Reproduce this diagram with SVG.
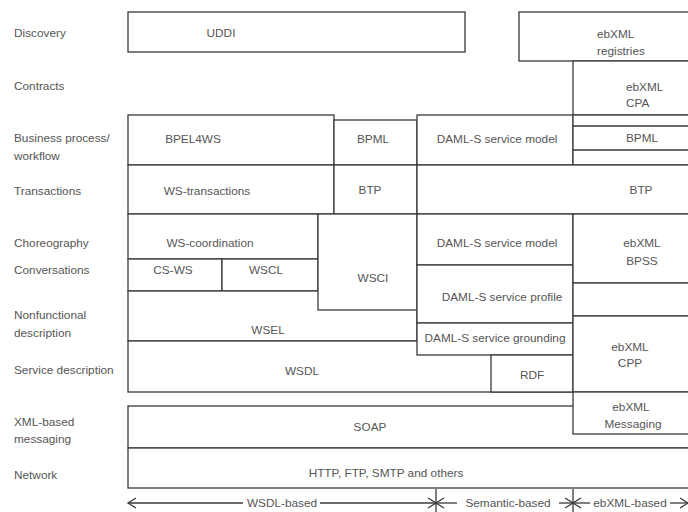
<svg xmlns="http://www.w3.org/2000/svg" width="688" height="512" viewBox="0 0 688 512">
<style>
.b{fill:#fff;stroke:#3a3a3a;stroke-width:1.3}
.ln{fill:none;stroke:#3a3a3a;stroke-width:1.3}
text{font-family:"Liberation Sans",Arial,sans-serif;font-size:11.8px;fill:#555;dominant-baseline:central}
.c{text-anchor:middle}
.s{text-anchor:start}
</style>
<rect width="688" height="512" fill="#fff"/>
<g id="labels">
<text class="s" x="14" y="33">Discovery</text>
<text class="s" x="14" y="86">Contracts</text>
<text class="s" x="14" y="138">Business process/</text>
<text class="s" x="14" y="156">workflow</text>
<text class="s" x="14" y="191">Transactions</text>
<text class="s" x="14" y="243">Choreography</text>
<text class="s" x="14" y="270">Conversations</text>
<text class="s" x="14" y="315">Nonfunctional</text>
<text class="s" x="14" y="333">description</text>
<text class="s" x="14" y="370">Service description</text>
<text class="s" x="14" y="422">XML-based</text>
<text class="s" x="14" y="439">messaging</text>
<text class="s" x="14" y="475">Network</text>
</g>
<g id="uddi"><rect class="b" x="128" y="12" width="337" height="40"/><text class="c" x="221" y="33">UDDI</text></g>
<g id="ebxml-registries"><rect class="b" x="519" y="12" width="180" height="49"/><text class="s" x="597" y="34">ebXML</text><text class="s" x="597" y="51">registries</text></g>
<g id="ebxml-cpa"><rect class="b" x="573" y="61" width="120" height="54"/><text class="s" x="626" y="87">ebXML</text><text class="s" x="626" y="103">CPA</text></g>
<g id="bpel4ws"><rect class="b" x="128" y="115" width="206" height="50"/><text class="c" x="193" y="139">BPEL4WS</text></g>
<g id="bpml"><rect class="b" x="334" y="120" width="83" height="45"/><text class="c" x="373" y="139">BPML</text></g>
<g id="daml-model-1"><rect class="b" x="417" y="115" width="156" height="50"/><text class="c" x="497" y="139">DAML-S service model</text></g>
<g id="ebxml-bpml"><rect class="b" x="573" y="115" width="120" height="50"/><line class="ln" x1="573" y1="126" x2="688" y2="126"/><line class="ln" x1="573" y1="150" x2="688" y2="150"/><text class="c" x="642" y="138">BPML</text></g>
<g id="ws-transactions"><rect class="b" x="128" y="165" width="206" height="49"/><text class="c" x="207" y="191">WS-transactions</text></g>
<g id="btp-small"><rect class="b" x="334" y="165" width="83" height="49"/><text class="c" x="370" y="190">BTP</text></g>
<g id="btp-big"><rect class="b" x="417" y="165" width="280" height="49"/><text class="c" x="641" y="190">BTP</text></g>
<g id="ws-coordination"><rect class="b" x="128" y="214" width="190" height="45"/><text class="c" x="210" y="243">WS-coordination</text></g>
<g id="cs-ws"><rect class="b" x="128" y="259" width="94" height="32"/><text class="c" x="173" y="270">CS-WS</text></g>
<g id="wscl"><rect class="b" x="222" y="259" width="96" height="32"/><text class="c" x="266" y="270">WSCL</text></g>
<g id="wsel"><rect class="b" x="128" y="291" width="289" height="50"/><text class="c" x="268" y="330">WSEL</text></g>
<g id="wsci"><rect class="b" x="318" y="214" width="99" height="96"/><text class="c" x="373" y="278">WSCI</text></g>
<g id="daml-model-2"><rect class="b" x="417" y="214" width="156" height="51"/><text class="c" x="497" y="243">DAML-S service model</text></g>
<g id="daml-profile"><rect class="b" x="417" y="265" width="156" height="58"/><text class="c" x="502" y="297">DAML-S service profile</text></g>
<g id="ebxml-bpss"><rect class="b" x="573" y="214" width="120" height="69"/><text class="c" x="642" y="243">ebXML</text><text class="c" x="642" y="261">BPSS</text></g>
<g id="empty-right"><rect class="b" x="573" y="283" width="120" height="33"/></g>
<g id="wsdl"><rect class="b" x="128" y="341" width="445" height="51"/><text class="c" x="302" y="371">WSDL</text></g>
<g id="daml-grounding"><rect class="b" x="417" y="323" width="156" height="32"/><text class="c" x="495" y="338">DAML-S service grounding</text></g>
<g id="rdf"><rect class="b" x="491" y="355" width="82" height="37"/><text class="c" x="532" y="375">RDF</text></g>
<g id="ebxml-cpp"><rect class="b" x="573" y="316" width="120" height="76"/><text class="c" x="630" y="347">ebXML</text><text class="c" x="630" y="363">CPP</text></g>
<g id="soap"><rect class="b" x="128" y="406" width="570" height="42"/><text class="c" x="370" y="427">SOAP</text></g>
<g id="ebxml-messaging"><rect class="b" x="573" y="392" width="120" height="42"/><text class="c" x="631" y="407">ebXML</text><text class="c" x="633" y="424">Messaging</text></g>
<g id="network"><rect class="b" x="128" y="448" width="570" height="40"/><text class="c" x="386" y="473">HTTP, FTP, SMTP and others</text></g>
<g id="connectors">
<line class="ln" x1="128" y1="503" x2="243" y2="503"/>
<line class="ln" x1="320" y1="503" x2="436" y2="503"/>
<line class="ln" x1="436" y1="503" x2="457" y2="503"/>
<line class="ln" x1="559" y1="503" x2="573" y2="503"/>
<line class="ln" x1="573" y1="503" x2="590" y2="503"/>
<line class="ln" x1="670" y1="503" x2="688" y2="503"/>
<polyline class="ln" points="136,498 128,503 136,508"/>
<polyline class="ln" points="428,498 436,503 428,508"/>
<polyline class="ln" points="444,498 436,503 444,508"/>
<polyline class="ln" points="565,498 573,503 565,508"/>
<polyline class="ln" points="581,498 573,503 581,508"/>
<polyline class="ln" points="680,498 688,503 680,508"/>
<line class="ln" x1="436" y1="489" x2="436" y2="512"/>
<line class="ln" x1="573" y1="489" x2="573" y2="512"/>
<text class="c" x="282" y="503">WSDL-based</text>
<text class="c" x="508" y="503">Semantic-based</text>
<text class="c" x="630" y="503">ebXML-based</text>
</g>
</svg>
